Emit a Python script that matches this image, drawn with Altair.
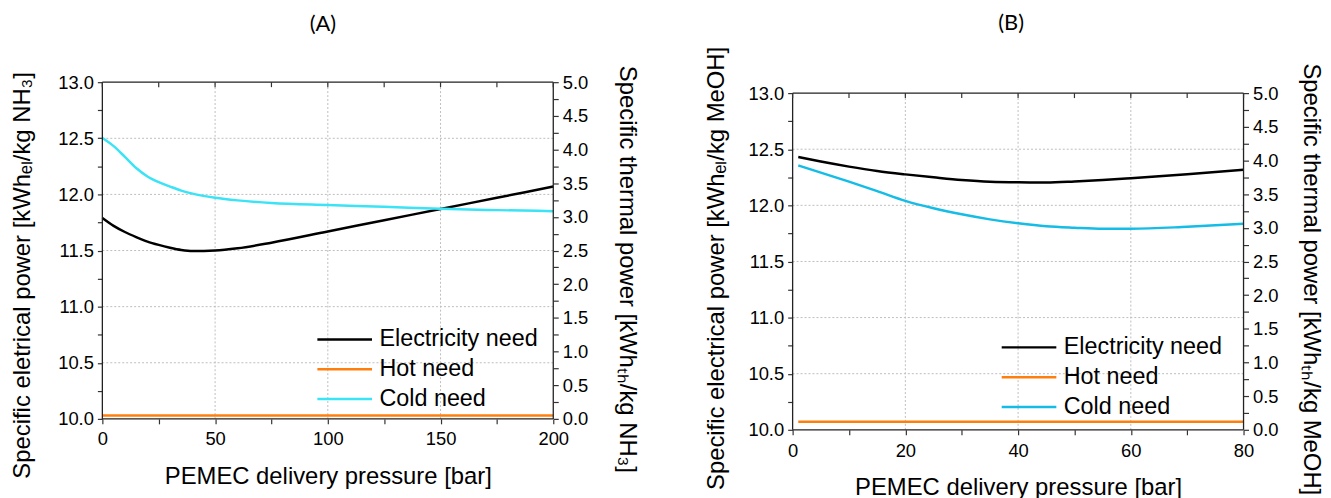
import altair as alt
import pandas as pd

SERIES = ["Electricity need", "Hot need", "Cold need"]
X_TITLE = "PEMEC delivery pressure [bar]"

# ---------------- Panel A (NH3) ----------------
a_p = [0, 5, 10, 15, 20, 25, 30, 35, 40, 50, 60, 75, 100, 125, 150, 175, 200]
a_elec = [11.79, 11.72, 11.665, 11.62, 11.58, 11.55, 11.525, 11.505, 11.495, 11.50, 11.52,
          11.57, 11.67, 11.77, 11.87, 11.97, 12.07]
a_cold = [4.17, 4.05, 3.89, 3.725, 3.60, 3.515, 3.45, 3.39, 3.345, 3.285, 3.245,
          3.205, 3.175, 3.15, 3.12, 3.10, 3.085]
a_hot_p = [0, 200]
a_hot = [0.05, 0.05]
a_xticks = [0, 25, 50, 75, 100, 125, 150, 175, 200]
a_xgrid = [50, 100, 150]

# ---------------- Panel B (MeOH) ----------------
b_p = [1, 5, 10, 15, 20, 25, 30, 35, 40, 45, 50, 55, 60, 70, 80]
b_elec = [12.43, 12.39, 12.345, 12.306, 12.276, 12.25, 12.226, 12.21, 12.205, 12.204,
          12.213, 12.226, 12.242, 12.278, 12.318]
b_cold = [3.925, 3.82, 3.685, 3.545, 3.40, 3.29, 3.20, 3.125, 3.067, 3.022,
          3.0, 2.985, 2.985, 3.015, 3.06]
b_hot_p = [1, 80]
b_hot = [0.12, 0.12]
b_xticks = [0, 10, 20, 30, 40, 50, 60, 70, 80]
b_xgrid = [20, 40, 60]

# ---------------- shared axes ----------------
y_left_ticks = [10.0, 10.25, 10.5, 10.75, 11.0, 11.25, 11.5, 11.75, 12.0, 12.25, 12.5, 12.75, 13.0]
y_right_ticks = [0.0, 0.25, 0.5, 0.75, 1.0, 1.25, 1.5, 1.75, 2.0, 2.25, 2.5, 2.75, 3.0,
                 3.25, 3.5, 3.75, 4.0, 4.25, 4.5, 4.75, 5.0]
y_grid = [10.5, 11.0, 11.5, 12.0, 12.5]
L_MIN, L_MAX = 10.0, 13.0
R_MIN, R_MAX = 0.0, 5.0

HALF_EXPR = "abs(datum.value*2 - round(datum.value*2)) < 0.001 ? format(datum.value, '.1f') : ''"
FONT = "Liberation Sans"
PLOT_H = 339          # pixel height of the framed plot
FRAME = dict(color="#222", strokeWidth=1.3)


def axis(**kw):
    base = dict(tickSize=5, tickColor="#333", tickWidth=1.2, domain=False, grid=False,
                labelFontSize=18.5, labelFont=FONT, labelColor="#000", labelPadding=4,
                labelOverlap=False, labelFlush=False, labelBound=False,
                titleFontSize=24, titleFont=FONT, titleFontWeight="normal", titleColor="#000")
    base.update(kw)
    return alt.Axis(**base)


def panel(p, elec, cold, hot_p, hot, xmax, xticks, xmajor, xgrid, cyan,
          ytl, ytr, label, toff, tdx, legx, legy, shift, lpad, rpad, lty, rty, xlpad, xtpad):
    # 'shift' = empty pixels kept above the frame (to lower this panel's frame)
    h = PLOT_H + shift
    l_top = L_MAX + shift * (L_MAX - L_MIN) / PLOT_H
    r_top = R_MAX + shift * (R_MAX - R_MIN) / PLOT_H
    tick_len = 5 * (L_MAX - L_MIN) / PLOT_H

    xs = alt.Scale(domain=[0, xmax], nice=False, zero=False)
    ls = alt.Scale(domain=[L_MIN, l_top], nice=False, zero=False)
    rs = alt.Scale(domain=[R_MIN, r_top], nice=False, zero=False)
    cs = alt.Scale(domain=SERIES, range=["#000000", "#ff7f0e", cyan])
    leg = alt.Legend(title=None, orient="none", legendX=legx, legendY=legy,
                     symbolType="stroke", symbolSize=3025, symbolStrokeWidth=2.5,
                     labelFontSize=23.5, labelFont=FONT, labelColor="#000",
                     labelOffset=6, rowPadding=0, clipHeight=30, padding=0, offset=0)

    df_e = pd.DataFrame({"p": p, "v": elec, "s": "Electricity need"})
    df_r = pd.concat([
        pd.DataFrame({"p": hot_p, "v": hot, "s": "Hot need"}),
        pd.DataFrame({"p": p, "v": cold, "s": "Cold need"}),
    ])

    grid_style = dict(color="#bdbdbd", strokeDash=[2, 2], strokeWidth=1)
    gx = alt.Chart(pd.DataFrame({"g": xgrid, "y1": L_MIN, "y2": L_MAX})).mark_rule(**grid_style).encode(
        x=alt.X("g:Q", scale=xs, axis=None),
        y=alt.Y("y1:Q", scale=ls, axis=None), y2="y2:Q")
    gy = alt.Chart(pd.DataFrame({"g": y_grid})).mark_rule(**grid_style).encode(
        y=alt.Y("g:Q", scale=ls, axis=None))

    le = alt.Chart(df_e).mark_line(strokeWidth=2.5, interpolate="monotone").encode(
        x=alt.X("p:Q", scale=xs,
                axis=axis(values=xticks, orient="bottom", title=X_TITLE, titlePadding=xtpad,
                          labelPadding=xlpad,
                          labelExpr=f"datum.value % {xmajor} === 0 ? datum.label : ''")),
        y=alt.Y("v:Q", scale=ls,
                axis=axis(values=y_left_ticks, orient="left", title=ytl, titlePadding=lpad,
                          titleY=lty, labelExpr=HALF_EXPR)),
        color=alt.Color("s:N", scale=cs, legend=leg),
    )
    lr = alt.Chart(df_r).mark_line(strokeWidth=2.5, interpolate="monotone").encode(
        x=alt.X("p:Q", scale=xs, axis=None),
        y=alt.Y("v:Q", scale=rs,
                axis=axis(values=y_right_ticks, orient="right", title=ytr, titlePadding=rpad,
                          titleY=rty, labelExpr=HALF_EXPR)),
        color=alt.Color("s:N", scale=cs, legend=leg),
    )
    # frame of the plot (box) drawn from the scale limits
    fv = alt.Chart(pd.DataFrame({"x": [0, xmax], "y1": L_MIN, "y2": L_MAX})).mark_rule(**FRAME).encode(
        x=alt.X("x:Q", scale=xs, axis=None),
        y=alt.Y("y1:Q", scale=ls, axis=None), y2="y2:Q")
    fh = alt.Chart(pd.DataFrame({"y": [L_MIN, L_MAX]})).mark_rule(**FRAME).encode(
        y=alt.Y("y:Q", scale=ls, axis=None))
    # inward ticks on the top edge
    tt = alt.Chart(pd.DataFrame({"t": xticks, "y1": L_MAX, "y2": L_MAX - tick_len})).mark_rule(
        color="#333", strokeWidth=1.2).encode(
        x=alt.X("t:Q", scale=xs, axis=None),
        y=alt.Y("y1:Q", scale=ls, axis=None), y2="y2:Q")

    return alt.layer(gx, gy, le, lr, fv, fh, tt).resolve_scale(y="independent").resolve_axis(
        x="independent", y="independent").properties(
        width=454, height=h,
        title=alt.TitleParams(label, offset=toff, fontSize=22, font="Lato", dx=tdx, frame="group",
                              fontWeight="normal", color="#000", anchor="middle"))


pa = panel(a_p, a_elec, a_cold, a_hot_p, a_hot, 200, a_xticks, 50, a_xgrid, "#3ae3f5",
           "Specific eletrical power [kWhₑₗ/kg NH₃]",
           "Specific thermal power [kWhₜₕ/kg NH₃]", "(A)",
           toff=30, tdx=-5, legx=215, legy=244, shift=0, lpad=23, rpad=27, lty=194, rty=188,
           xlpad=6, xtpad=17)
pb = panel(b_p, b_elec, b_cold, b_hot_p, b_hot, 80, b_xticks, 20, b_xgrid, "#14bce6",
           "Specific electrical power [kWhₑₗ/kg MeOH]",
           "Specific thermal power [kWhₜₕ/kg MeOH]", "(B)",
           toff=11, tdx=-7, legx=209, legy=252, shift=11, lpad=20, rpad=21, lty=187, rty=198,
           xlpad=7, xtpad=16)

chart = alt.hconcat(pa, pb, spacing=65).resolve_scale(color="independent").properties(
    padding={"left": 2, "top": 2, "right": 0, "bottom": 0}
).configure_view(strokeOpacity=0)

chart.save("out.html", embed_options={"renderer": "svg", "actions": False})
